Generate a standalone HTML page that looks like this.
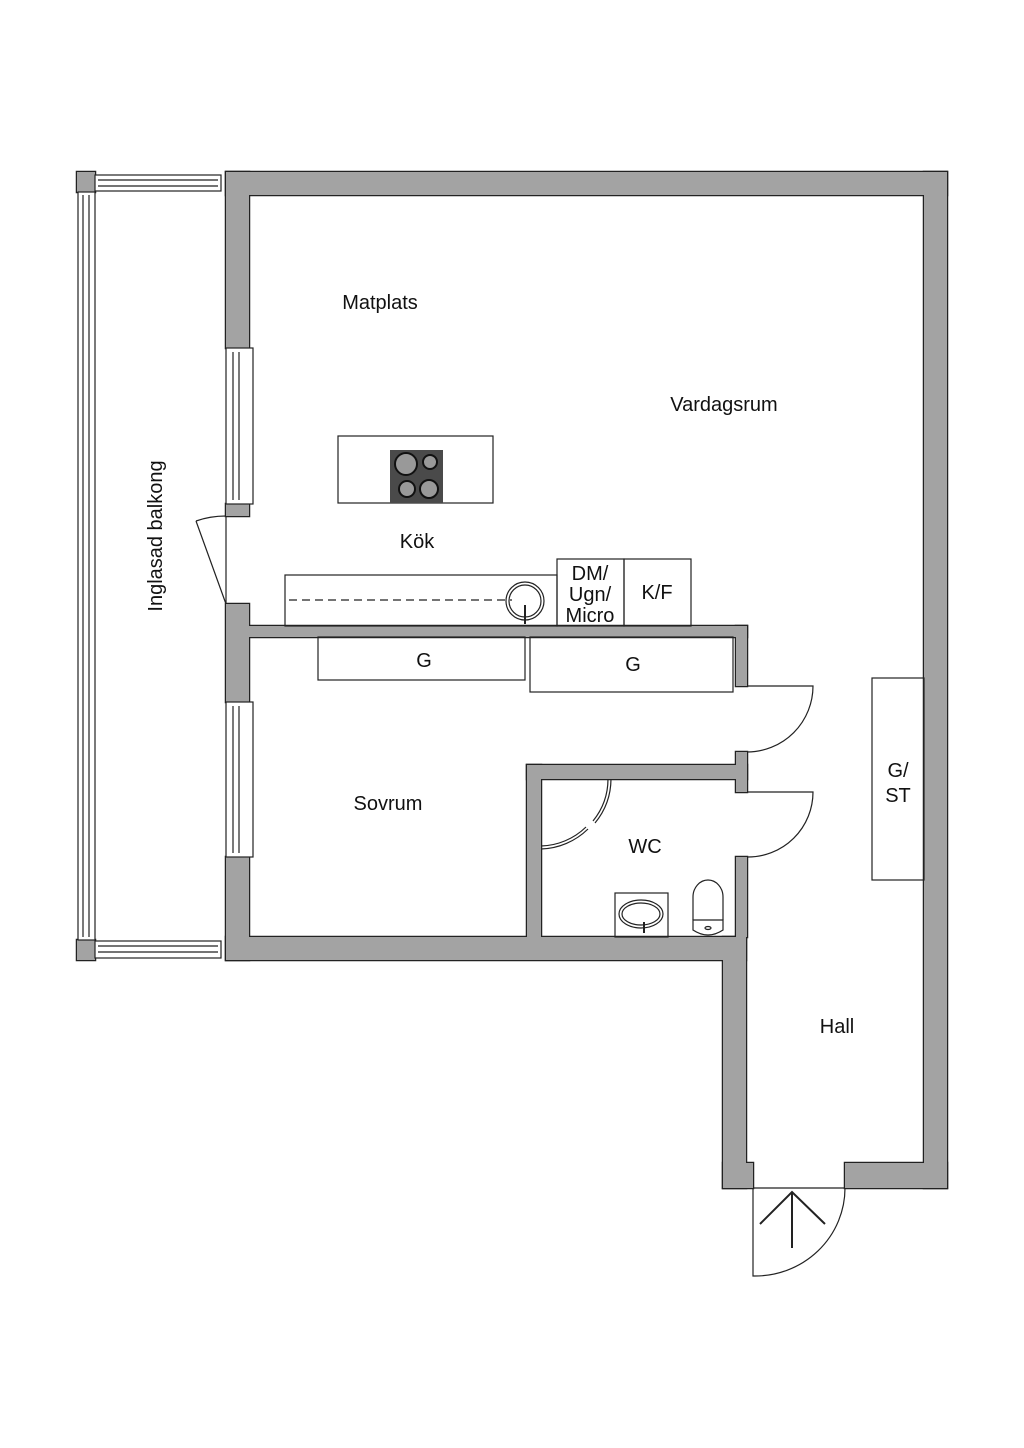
<!DOCTYPE html>
<html><head><meta charset="utf-8"><style>
html,body{margin:0;padding:0;background:#fff}
svg{display:block}
text{font-family:"Liberation Sans",sans-serif;font-size:20px;fill:#111}
</style></head><body>
<svg width="1024" height="1448" viewBox="0 0 1024 1448" xmlns="http://www.w3.org/2000/svg">
<defs>
<g id="walls">
<rect x="226" y="172" width="721" height="23"/>
<rect x="924" y="172" width="23" height="1016"/>
<rect x="226" y="172" width="23" height="176"/>
<rect x="226" y="504" width="23" height="12"/>
<rect x="226" y="604" width="23" height="98"/>
<rect x="226" y="857" width="23" height="103"/>
<rect x="226" y="937" width="520" height="23"/>
<rect x="249" y="626" width="498" height="11"/>
<rect x="736" y="626" width="11" height="60"/>
<rect x="736" y="752" width="11" height="40"/>
<rect x="736" y="857" width="11" height="80"/>
<rect x="527" y="765" width="220" height="14"/>
<rect x="527" y="765" width="14" height="180"/>
<rect x="723" y="937" width="23" height="251"/>
<rect x="723" y="1163" width="30" height="25"/>
<rect x="845" y="1163" width="102" height="25"/>
<rect x="77" y="172" width="18" height="20"/>
<rect x="77" y="940" width="18" height="20"/>
</g>
</defs>
<use href="#walls" fill="none" stroke="#222" stroke-width="2.5"/>
<use href="#walls" fill="#a3a3a3"/>
<g fill="none" stroke="#222" stroke-width="1.2">
<rect x="95" y="175" width="126" height="16" fill="#fff"/>
<line x1="98" y1="180" x2="218" y2="180"/><line x1="98" y1="186" x2="218" y2="186"/>
<rect x="95" y="941" width="126" height="17" fill="#fff"/>
<line x1="98" y1="946" x2="218" y2="946"/><line x1="98" y1="952" x2="218" y2="952"/>
<rect x="78" y="192" width="17" height="748" fill="#fff"/>
<line x1="83" y1="195" x2="83" y2="937"/><line x1="89" y1="195" x2="89" y2="937"/>
<rect x="226" y="348" width="27" height="156" fill="#fff"/>
<line x1="233" y1="352" x2="233" y2="500"/><line x1="239" y1="352" x2="239" y2="500"/>
<rect x="226" y="702" width="27" height="155" fill="#fff"/>
<line x1="233" y1="706" x2="233" y2="853"/><line x1="239" y1="706" x2="239" y2="853"/>
<line x1="226" y1="516" x2="226" y2="604"/>
<line x1="226" y1="604" x2="196" y2="521"/>
<path d="M196 521 Q210 516 226 516"/>
<rect x="338" y="436" width="155" height="67"/>
<rect x="285" y="575" width="272" height="51"/>
<line x1="289" y1="600" x2="512" y2="600" stroke-dasharray="8 5"/>
<rect x="557" y="559" width="67" height="67"/>
<rect x="624" y="559" width="67" height="67"/>
<circle cx="525" cy="601" r="19"/>
<circle cx="525" cy="601" r="16"/>
<line x1="525" y1="605" x2="525" y2="624" stroke-width="2"/>
<rect x="318" y="637" width="207" height="43"/>
<rect x="530" y="637" width="203" height="55"/>
<rect x="872" y="678" width="52" height="202"/>
<path d="M747 686 L813 686 A66 66 0 0 1 747 752"/>
<path d="M747 792 L813 792 A65 65 0 0 1 747 857"/>
<path d="M541 846 A67 67 0 0 0 586 827"/>
<path d="M541 849 A70 70 0 0 0 588 829"/>
<path d="M593 821 A67 67 0 0 0 608 779"/>
<path d="M595 823 A70 70 0 0 0 611 779"/>
<rect x="615" y="893" width="53" height="44"/>
<ellipse cx="641" cy="914" rx="22" ry="14"/>
<ellipse cx="641" cy="914" rx="19" ry="11"/>
<line x1="644" y1="922" x2="644" y2="933" stroke-width="2"/>
<path d="M693 920 L693 897 A15 17 0 0 1 723 897 L723 920"/>
<path d="M693 920 L723 920 L723 930 Q708 940 693 930 Z"/>
<ellipse cx="708" cy="928" rx="3" ry="1.5"/>
<line x1="753" y1="1188" x2="845" y2="1188"/>
<path d="M753 1188 L753 1276 A90 88 0 0 0 845 1188"/>
<line x1="792" y1="1193" x2="792" y2="1248" stroke-width="2"/>
<polyline points="760,1224 792,1192 825,1224" stroke-width="2"/>
</g>
<rect x="390" y="450" width="53" height="53" fill="#4a4a4a"/>
<g fill="#999" stroke="#111" stroke-width="2">
<circle cx="406" cy="464" r="11"/><circle cx="430" cy="462" r="7"/>
<circle cx="407" cy="489" r="8"/><circle cx="429" cy="489" r="9"/>
</g>
<text x="380" y="309" text-anchor="middle">Matplats</text>
<text x="724" y="411" text-anchor="middle">Vardagsrum</text>
<text x="417" y="548" text-anchor="middle">Kök</text>
<text x="590" y="580" text-anchor="middle">DM/</text>
<text x="590" y="601" text-anchor="middle">Ugn/</text>
<text x="590" y="622" text-anchor="middle">Micro</text>
<text x="657" y="599" text-anchor="middle">K/F</text>
<text x="424" y="667" text-anchor="middle">G</text>
<text x="633" y="671" text-anchor="middle">G</text>
<text x="388" y="810" text-anchor="middle">Sovrum</text>
<text x="645" y="853" text-anchor="middle">WC</text>
<text x="898" y="777" text-anchor="middle">G/</text>
<text x="898" y="802" text-anchor="middle">ST</text>
<text x="837" y="1033" text-anchor="middle">Hall</text>
<text x="0" y="0" text-anchor="middle" transform="translate(162,536) rotate(-90)">Inglasad balkong</text>
</svg>
</body></html>
